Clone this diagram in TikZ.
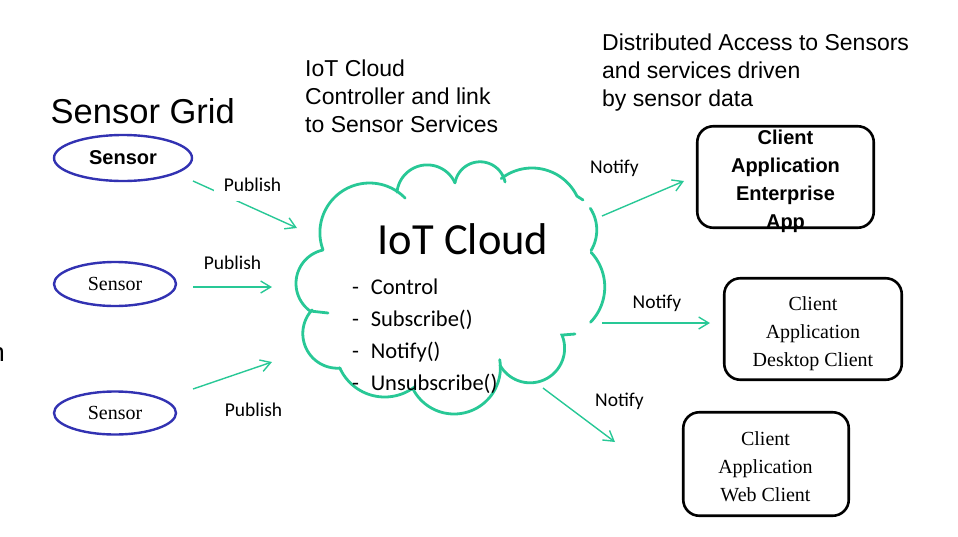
\documentclass[tikz,border=0pt]{standalone}
\usepackage{fontspec}
\usetikzlibrary{shapes.geometric,arrows.meta}
\newfontfamily\arialf{Liberation Sans}
\newfontfamily\timesf{Liberation Serif}
\newfontfamily\calibrif{Carlito}
\definecolor{cgreen}{RGB}{40,200,150}
\definecolor{cblue}{RGB}{50,50,178}
\tikzset{
  arr/.style={draw=cgreen, line width=1.4pt, -{Straight Barb[length=10pt,width=12pt]}},
  cloudline/.style={draw=cgreen, line width=2.8pt, line cap=round},
  sensor/.style={ellipse, draw=cblue, line width=2.4pt, inner sep=0pt},
  clientbox/.style={draw=black, line width=2.6pt, rounded corners=16pt, inner sep=0pt},
  lbl/.style={font=\calibrif\fontsize{19.5}{23}\selectfont, anchor=base, inner sep=0pt},
  listitem/.style={font=\calibrif\fontsize{22.5}{26}\selectfont, anchor=base west, inner sep=0pt},
  blocktext/.style={font=\arialf\fontsize{23}{28}\selectfont, align=left, anchor=north west, inner sep=0pt},
}
\begin{document}
\begin{tikzpicture}[x=1pt, y=-1pt]
\useasboundingbox (0,0) rectangle (958,536);

% headings
\node[font=\arialf\fontsize{34.5}{40}\selectfont, anchor=base west, inner sep=0pt] (grid) at (50.5,123) {Sensor Grid};
\node[blocktext] (ctrl) at (305,59.3) {IoT Cloud\\Controller and link\\to Sensor Services};
\node[blocktext] (dist) at (602,33.3) {Distributed Access to Sensors\\and services driven\\by sensor data};
\node[font=\arialf\fontsize{26}{30}\selectfont, anchor=base east, inner sep=0pt] (frag) at (5,361) {n};

% sensors
\node[sensor, minimum width=138pt, minimum height=46pt, font=\arialf\bfseries\fontsize{20}{24}\selectfont] (s1) at (123,158) {Sensor};
\node[sensor, minimum width=122pt, minimum height=44pt, font=\timesf\fontsize{20}{24}\selectfont] (s2) at (115,284) {\raisebox{-2.5pt}{Sensor}};
\node[sensor, minimum width=122pt, minimum height=43pt, font=\timesf\fontsize{20}{24}\selectfont] (s3) at (115,413) {\raisebox{-2.5pt}{Sensor}};

% cloud outline
\draw[cloudline] (328,313) -- plot[domain=126:258, samples=40] ({330.1+34.1*cos(\x)},{283.4+34.1*sin(\x)});
\draw[cloudline] plot[domain=160:316, samples=50] ({369.5+49.6*cos(\x)},{232.6+49.6*sin(\x)});
\draw[cloudline] plot[domain=186:336, samples=40] ({427.2+30.4*cos(\x)},{195.3+30.4*sin(\x)});
\draw[cloudline] plot[domain=190:348, samples=40] ({480.1+25.5*cos(\x)},{187.3+25.5*sin(\x)});
\draw[cloudline] plot[domain=232:334, samples=40] ({532+50*cos(\x)},{218+50*sin(\x)}) -- (583,200);
\draw[cloudline] plot[domain=-33:31, samples=30] ({557+39.75*cos(\x)},{230+39.75*sin(\x)});
\draw[cloudline] plot[domain=-43:44, samples=40] ({554+50.75*cos(\x)},{287+50.75*sin(\x)});
\draw[cloudline] (575,334) -- plot[domain=-22.6:151, samples=50] ({530.1+34.5*cos(\x)},{348.3+34.5*sin(\x)});
\draw[cloudline] plot[domain=-10:153, samples=50] ({454.1+46.3*cos(\x)},{367.7+46.3*sin(\x)});
\draw[cloudline] plot[domain=52:156, samples=40] ({384.7+49.2*cos(\x)},{347.8+49.2*sin(\x)});
\draw[cloudline] plot[domain=86:223, samples=40] ({337.5+34.7*cos(\x)},{333.5+34.7*sin(\x)});

% cloud text
\node[font=\calibrif\fontsize{44.5}{50}\selectfont, anchor=base, inner sep=0pt] (title) at (463,254) {IoT Cloud};
\node[listitem] (i1) at (352,294) {\makebox[18.6pt][l]{-}Control};
\node[listitem] (i2) at (352,326) {\makebox[18.6pt][l]{-}Subscribe()};
\node[listitem] (i3) at (352,358) {\makebox[18.6pt][l]{-}Notify()};
\node[listitem] (i4) at (352,390) {\makebox[18.6pt][l]{-}Unsubscribe()};

% clients
\node[clientbox, minimum width=176.5pt, minimum height=101.5pt] (c1) at (785.5,177) {};
\node[font=\arialf\bfseries\fontsize{20}{28}\selectfont, align=center, anchor=north, inner sep=0pt] (c1t) at (785.5,129.6) {Client\\Application\\Enterprise\\App};
\node[clientbox, minimum width=177.5pt, minimum height=101.5pt] (c2) at (813,329) {};
\node[font=\timesf\fontsize{20}{28}\selectfont, align=center, anchor=north, inner sep=0pt] (c2t) at (813,296.3) {Client\\Application\\Desktop Client};
\node[clientbox, minimum width=165.5pt, minimum height=103.5pt] (c3) at (766,464) {};
\node[font=\timesf\fontsize{20}{28}\selectfont, align=center, anchor=north, inner sep=0pt] (c3t) at (765.5,431.3) {Client\\Application\\Web Client};

% connectors
\coordinate (p1s) at (193,181); \coordinate (p1e) at (297,228);
\coordinate (p2s) at (193,287); \coordinate (p2e) at (272,287);
\coordinate (p3s) at (193,389); \coordinate (p3e) at (272,362);
\coordinate (n1s) at (602,216); \coordinate (n1e) at (684,181);
\coordinate (n2s) at (602,323); \coordinate (n2e) at (710,323);
\coordinate (n3s) at (543,388); \coordinate (n3e) at (615,442);
\draw[arr] (p1s) -- (p1e);
\draw[arr] (p2s) -- (p2e);
\draw[arr] (p3s) -- (p3e);
\draw[arr] (n1s) -- (n1e);
\draw[arr] (n2s) -- (n2e);
\draw[arr] (n3s) -- (n3e);

% labels
\node[lbl, fill=white, inner xsep=10pt, inner ysep=9.5pt] (pub1) at (252.5,191) {Publish};
\node[lbl] (pub2) at (232.5,269) {Publish};
\node[lbl] (pub3) at (253.5,416.5) {Publish};
\node[lbl] (not1) at (614.5,173) {Notify};
\node[lbl] (not2) at (657,308) {Notify};
\node[lbl] (not3) at (619.5,406) {Notify};
\end{tikzpicture}
\end{document}
